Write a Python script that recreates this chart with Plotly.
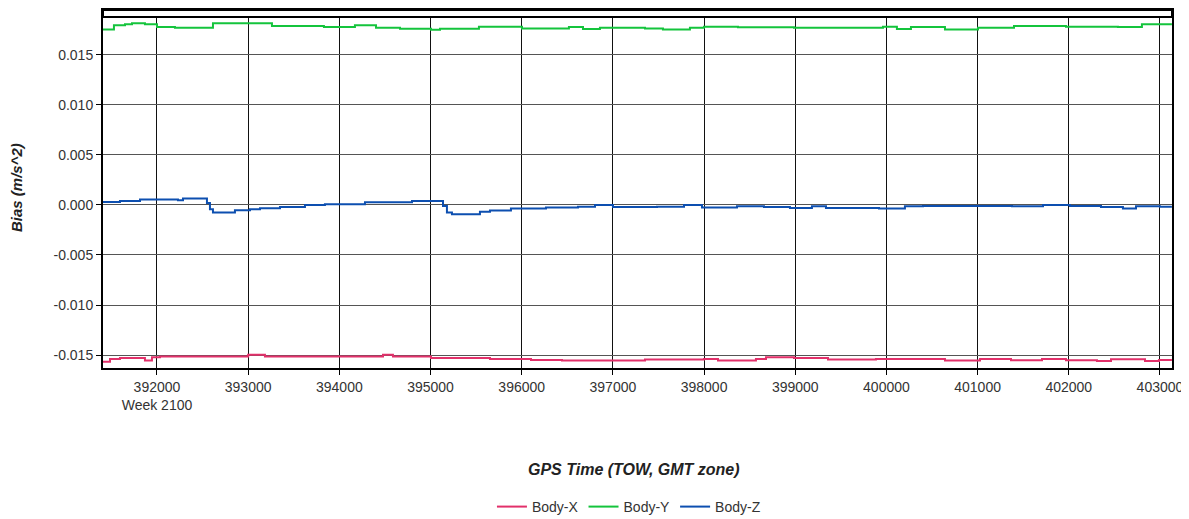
import plotly.graph_objects as go

# GPS time of week (s) and accelerometer bias (m/s^2)
tow_x = [391408, 391485, 391594, 391814, 391868, 391945, 392033, 393000, 393184,
         394479, 394588, 395005, 395652, 396102, 396442, 397352, 397999, 398153,
         398569, 398679, 398986, 399359, 399885, 400642, 401026, 401366, 401706,
         401969, 402309, 402463, 402836, 402989, 403131]
body_x = [-0.01566, -0.01538, -0.01528, -0.01528, -0.01555, -0.01521, -0.01514,
          -0.01497, -0.01514, -0.01497, -0.01514, -0.01528, -0.01538, -0.01548,
          -0.01555, -0.01545, -0.01538, -0.01555, -0.01538, -0.01521, -0.01528,
          -0.01545, -0.01538, -0.01555, -0.01538, -0.01552, -0.01538, -0.01552,
          -0.01559, -0.01541, -0.01559, -0.01548, -0.01548]

tow_y = [391408, 391430, 391528, 391649, 391726, 391868, 392000, 392197, 392614,
         393000, 393261, 393831, 394171, 394402, 394665, 395005, 395104, 395531,
         396003, 396518, 396672, 396858, 397352, 397549, 397845, 397999, 398372,
         398986, 399962, 400115, 400269, 400642, 401004, 401399, 401969, 402539,
         402802, 403131]
body_y = [0.01753, 0.01753, 0.01794, 0.01805, 0.01815, 0.01805, 0.01777, 0.01770,
          0.01815, 0.01815, 0.01788, 0.01777, 0.01794, 0.01770, 0.01760, 0.01749,
          0.01760, 0.01780, 0.01763, 0.01777, 0.01756, 0.01770, 0.01763, 0.01753,
          0.01770, 0.01780, 0.01775, 0.01770, 0.01780, 0.01756, 0.01777, 0.01753,
          0.01770, 0.01788, 0.01780, 0.01777, 0.01805, 0.01805]

tow_z = [391408, 391594, 391814, 392230, 392285, 392504, 392548, 392581, 392614,
         392855, 393020, 393130, 393349, 393623, 393842, 394281, 394797, 395104,
         395137, 395180, 395235, 395542, 395652, 395882, 396266, 396617, 396804,
         397001, 397484, 397780, 397977, 398361, 398657, 398942, 399183, 399337,
         399918, 400203, 400401, 401377, 401717, 402013, 402353, 402594, 402737,
         403000, 403131]
body_z = [0.00030, 0.00040, 0.00055, 0.00047, 0.00063, 0.00063, 0.00020, -0.00043,
          -0.00076, -0.00053, -0.00043, -0.00033, -0.00020, 0.00000, 0.00007,
          0.00027, 0.00040, 0.00040, -0.00010, -0.00076, -0.00093, -0.00067,
          -0.00057, -0.00035, -0.00026, -0.00018, 0.00000, -0.00022, -0.00018,
          0.00000, -0.00026, -0.00013, -0.00022, -0.00030, -0.00013, -0.00030,
          -0.00035, -0.00013, -0.00010, -0.00013, 0.00000, -0.00010, -0.00022,
          -0.00035, -0.00013, -0.00018, -0.00018]

x_ticks = list(range(392000, 403001, 1000))
x_text = [str(v) for v in x_ticks]
x_text[0] = "392000<br>Week 2100"
y_ticks = [-0.015, -0.010, -0.005, 0.0, 0.005, 0.010, 0.015]
y_text = ["-0.015", "-0.010", "-0.005", "0.000", "0.005", "0.010", "0.015"]

FONT = "Liberation Sans, Arial, sans-serif"


def create_line(x, y, name, color):
    return go.Scatter(x=x, y=y, name=name, mode="lines", line_shape="hv",
                      line=dict(color=color, width=2))


fig = go.Figure([
    create_line(tow_x, body_x, "Body-X", "#E2306A"),
    create_line(tow_y, body_y, "Body-Y", "#14C43C"),
    create_line(tow_z, body_z, "Body-Z", "#0D4FB0"),
])

# the page body adds an 8px offset, so the figure is 8px smaller here
fig.update_layout(
    width=1181,
    height=511,
    margin=dict(l=95, r=17, t=0, b=151),
    paper_bgcolor="white",
    plot_bgcolor="white",
    font=dict(family=FONT, size=14, color="#333"),
    showlegend=True,
    legend=dict(orientation="h", xref="paper", x=0.492, xanchor="center",
                yref="container", y=0.0235, yanchor="middle", itemwidth=30,
                font=dict(size=14, color="#333")),
    xaxis=dict(
        range=[391408, 403132], tickmode="array", tickvals=x_ticks, ticktext=x_text,
        showgrid=True, gridcolor="#111", gridwidth=1, zeroline=False,
        showline=True, linecolor="black", linewidth=2, mirror=True,
        ticks="outside", ticklen=5, tickcolor="black",
    ),
    yaxis=dict(
        range=[-0.01629, 0.01947], tickmode="array", tickvals=y_ticks, ticktext=y_text,
        showgrid=True, gridcolor="#555", gridwidth=1, zeroline=False,
        showline=True, linecolor="black", linewidth=2, mirror=True,
        ticks="outside", ticklen=5, tickcolor="black",
    ),
    shapes=[
        # double frame band along the top of the plot area
        dict(type="rect", xref="paper", yref="paper", x0=0, x1=1, y0=0.9806, y1=1.0,
             fillcolor="white", line=dict(color="black", width=2), layer="above"),
    ],
    annotations=[
        dict(text="<b><i>Bias (m/s^2)</i></b>", xref="paper", yref="paper",
             x=-0.0804, y=0.503, textangle=-90, showarrow=False,
             xanchor="center", yanchor="middle", font=dict(size=15, color="#222")),
        dict(text="<b><i>GPS Time (TOW, GMT zone)</i></b>", xref="paper", yref="paper",
             x=0.497, y=-0.283, showarrow=False, xanchor="center", yanchor="middle",
             font=dict(size=16, color="#222")),
    ],
)

fig.write_html("out.html")
